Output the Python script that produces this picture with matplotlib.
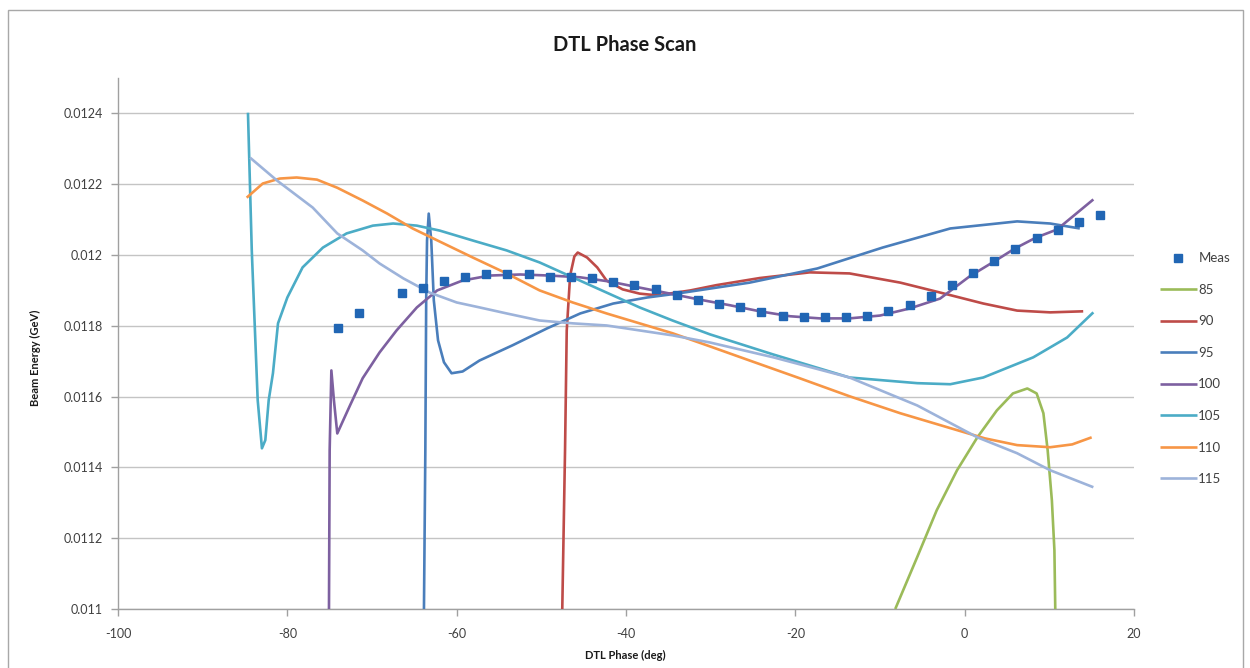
import matplotlib
matplotlib.use("Agg")
import matplotlib.pyplot as plt
from matplotlib.patches import Rectangle
from matplotlib.ticker import FuncFormatter

# ---------------------------------------------------------------------------
# Data
# ---------------------------------------------------------------------------

meas_x = [-74, -71.5, -66.5, -64, -61.5, -59, -56.5, -54, -51.5, -49, -46.5, -44,
          -41.5, -39, -36.5, -34, -31.5, -29, -26.5, -24, -21.5, -19, -16.5, -14,
          -11.5, -9, -6.5, -4, -1.5, 1, 3.5, 6, 8.5, 11, 13.5, 16]
meas_y = [0.011795, 0.011835, 0.011894, 0.011908, 0.011928, 0.011937, 0.011945,
          0.011945, 0.011945, 0.011939, 0.011937, 0.011934, 0.011925, 0.011914,
          0.011903, 0.011886, 0.011872, 0.011863, 0.011852, 0.011838, 0.011829,
          0.011824, 0.011824, 0.011824, 0.011827, 0.011841, 0.011860, 0.011883,
          0.011914, 0.011948, 0.011982, 0.012018, 0.012049, 0.012072, 0.012092,
          0.012114]

x85 = [-8.2, -5.6, -3.3, -0.9, 1.5, 3.8, 5.7, 7.4, 8.5, 9.3, 9.8, 10.3, 10.6, 10.7]
y85 = [0.0110, 0.011147, 0.011279, 0.011392, 0.011485, 0.011561, 0.011609, 0.011623,
       0.011609, 0.011553, 0.011449, 0.011307, 0.011166, 0.0110]

x90 = [-47.6, -47.2, -47.0, -46.6, -46.1, -45.7, -44.6, -43.4, -42.3, -40.4, -38.4,
       -36.3, -32.4, -29.3, -24.2, -18.3, -13.6, -7.6, -2.9, 2.2, 6.2, 10.1, 14.0]
y90 = [0.0109, 0.011449, 0.011787, 0.011942, 0.011996, 0.012007, 0.011993, 0.011965,
       0.011928, 0.011903, 0.011891, 0.011886, 0.011900, 0.011915, 0.011935, 0.011951,
       0.011948, 0.011922, 0.011894, 0.011863, 0.011843, 0.011838, 0.011841]

x95 = [-63.9, -63.7, -63.6, -63.5, -63.3, -63.0, -62.7, -62.2, -61.5, -60.6, -59.3,
       -57.3, -53.4, -49.3, -45.4, -41.5, -37.5, -34.0, -25.4, -17.4, -9.7, -1.7, 6.2,
       10.1, 13.6]
y95 = [0.0109, 0.011449, 0.011872, 0.012041, 0.012117, 0.012041, 0.011872, 0.011759,
       0.011697, 0.011666, 0.011671, 0.011702, 0.011745, 0.011793, 0.011835, 0.011863,
       0.011880, 0.011891, 0.011922, 0.011962, 0.012021, 0.012075, 0.012095, 0.012089,
       0.012075]

x100 = [-75.1, -75.0, -74.8, -74.5, -74.1, -73.4, -72.6, -71.1, -69.1, -67.1, -64.7,
        -62.3, -59.3, -56.1, -52.5, -49.0, -45.4, -41.9, -38.4, -34.8, -31.3, -27.7,
        -24.2, -20.6, -17.1, -13.6, -10.0, -6.5, -2.9, 0.6, 3.5, 5.9, 8.4, 10.9, 15.2]
y100 = [0.0109, 0.011449, 0.011674, 0.011590, 0.011496, 0.011533, 0.011575, 0.011652,
        0.011725, 0.011787, 0.011852, 0.011900, 0.011928, 0.011942, 0.011945, 0.011942,
        0.011937, 0.011925, 0.011908, 0.011891, 0.011874, 0.011858, 0.011841, 0.011827,
        0.011821, 0.011821, 0.011829, 0.011849, 0.011877, 0.011940, 0.011982, 0.012018,
        0.012049, 0.012072, 0.012157]

x105 = [-84.65, -84.2, -83.5, -83.0, -82.6, -82.2, -81.7, -81.1, -80.0, -78.2, -75.8,
        -73.0, -69.9, -67.5, -64.7, -62.0, -58.1, -54.1, -50.2, -46.3, -42.3, -38.4,
        -34.5, -30.1, -22.6, -13.6, -5.6, -1.7, 2.2, 8.1, 12.1, 15.2]
y105 = [0.012402, 0.012013, 0.011590, 0.011454, 0.011477, 0.011590, 0.011666, 0.011807,
        0.011880, 0.011965, 0.012021, 0.012061, 0.012083, 0.012089, 0.012083, 0.012069,
        0.012041, 0.012013, 0.011979, 0.011937, 0.011894, 0.011852, 0.011815, 0.011776,
        0.011719, 0.011654, 0.011638, 0.011635, 0.011654, 0.011711, 0.011767, 0.011838]

x110 = [-84.8, -82.9, -80.9, -78.9, -76.5, -74.1, -71.1, -68.2, -65.2, -62.0, -58.1,
        -54.1, -50.2, -46.3, -42.3, -38.4, -34.5, -30.1, -25.4, -19.5, -13.6, -7.6,
        -1.7, 2.4, 6.2, 10.1, 12.7, 15.0]
y110 = [0.012162, 0.012202, 0.012216, 0.012219, 0.012213, 0.012190, 0.012154, 0.012117,
        0.012075, 0.012038, 0.011993, 0.011948, 0.011900, 0.011866, 0.011835, 0.011807,
        0.011779, 0.011742, 0.011702, 0.011652, 0.011601, 0.011553, 0.011511, 0.011482,
        0.011463, 0.011457, 0.011465, 0.011485]

x115 = [-84.4, -81.2, -77.0, -74.1, -71.1, -69.1, -66.3, -63.2, -60.0, -57.3, -54.1,
        -50.2, -46.3, -42.3, -38.4, -34.5, -30.1, -22.6, -13.6, -5.6, 1.5, 6.2, 10.1, 15.2]
y115 = [0.012275, 0.012210, 0.012134, 0.012061, 0.012013, 0.011976, 0.011934, 0.011894,
        0.011866, 0.011852, 0.011835, 0.011815, 0.011807, 0.011801, 0.011787, 0.011773,
        0.011753, 0.011711, 0.011654, 0.011575, 0.011485, 0.011440, 0.011392, 0.011344]

x_ticks = [-100, -80, -60, -40, -20, 0, 20]
y_ticks = [0.011, 0.0112, 0.0114, 0.0116, 0.0118, 0.012, 0.0122, 0.0124]

# ---------------------------------------------------------------------------
# Style
# ---------------------------------------------------------------------------

plt.rcParams["font.family"] = ["Lato", "DejaVu Sans"]
plt.rcParams["axes.unicode_minus"] = False

SERIES = [
    ("85", x85, y85, "#9BBB59"),
    ("90", x90, y90, "#BE4B48"),
    ("95", x95, y95, "#4A7EBB"),
    ("100", x100, y100, "#7D60A0"),
    ("105", x105, y105, "#4BACC6"),
    ("110", x110, y110, "#F79646"),
    ("115", x115, y115, "#9DB3DA"),
]
MEAS_COLOR = "#2166B4"
GRID_COLOR = "#C4C4C4"
AXIS_COLOR = "#A0A0A0"
TEXT_COLOR = "#404040"

fig = plt.figure(figsize=(12.5, 6.68), dpi=100)
ax = fig.add_axes([0.0944, 0.0883, 0.8128, 0.7949])

for label, xs, ys, color in SERIES:
    ax.plot(xs, ys, color=color, lw=1.9, label=label, zorder=3,
            solid_joinstyle="round", solid_capstyle="butt")

ax.plot(meas_x, meas_y, ls="none", marker="s", ms=5.8, color=MEAS_COLOR,
        label="Meas", zorder=4)

ax.set_xlim(-100, 20)
ax.set_ylim(0.011, 0.0125)
ax.set_xticks(x_ticks)
ax.set_yticks(y_ticks)
ax.yaxis.set_major_formatter(FuncFormatter(lambda v, p: f"{v:g}"))
ax.xaxis.set_major_formatter(FuncFormatter(lambda v, p: f"{v:g}"))

ax.grid(axis="y", color=GRID_COLOR, lw=1.0)
ax.set_axisbelow(True)
for side in ("top", "right"):
    ax.spines[side].set_visible(False)
for side in ("left", "bottom"):
    ax.spines[side].set_color(AXIS_COLOR)
    ax.spines[side].set_linewidth(1.0)
ax.tick_params(direction="out", length=5, width=1, color=AXIS_COLOR,
               labelsize=9, labelcolor=TEXT_COLOR)
ax.tick_params(axis="y", pad=6)
ax.tick_params(axis="x", pad=9)

# titles & labels
fig.text(0.5, 0.933, "DTL Phase Scan", ha="center", va="center",
         fontsize=14.5, fontweight="bold", color="#1A1A1A")
fig.text(0.5, 0.019, "DTL Phase (deg)", ha="center", va="center",
         fontsize=8, fontweight="bold", color="#1A1A1A")
fig.text(0.028, 0.465, "Beam Energy (GeV)", ha="center", va="center",
         rotation=90, fontsize=8, fontweight="bold", color="#1A1A1A")

# legend: Meas first, then model curves
handles, labels = ax.get_legend_handles_labels()
order = [len(handles) - 1] + list(range(len(handles) - 1))
fig.legend([handles[i] for i in order], [labels[i] for i in order],
           loc="center left", bbox_to_anchor=(0.928, 0.448), frameon=False,
           fontsize=9.5, labelspacing=1.48, handlelength=2.8, handletextpad=0.1,
           borderpad=0, borderaxespad=0, numpoints=1, labelcolor=TEXT_COLOR)

# chart area border
fig.patches.append(Rectangle((0.0064, -0.05), 0.988, 1.035, transform=fig.transFigure,
                             fill=False, edgecolor="#A8A8A8", lw=1.0))

fig.savefig("out.png", dpi=100)
